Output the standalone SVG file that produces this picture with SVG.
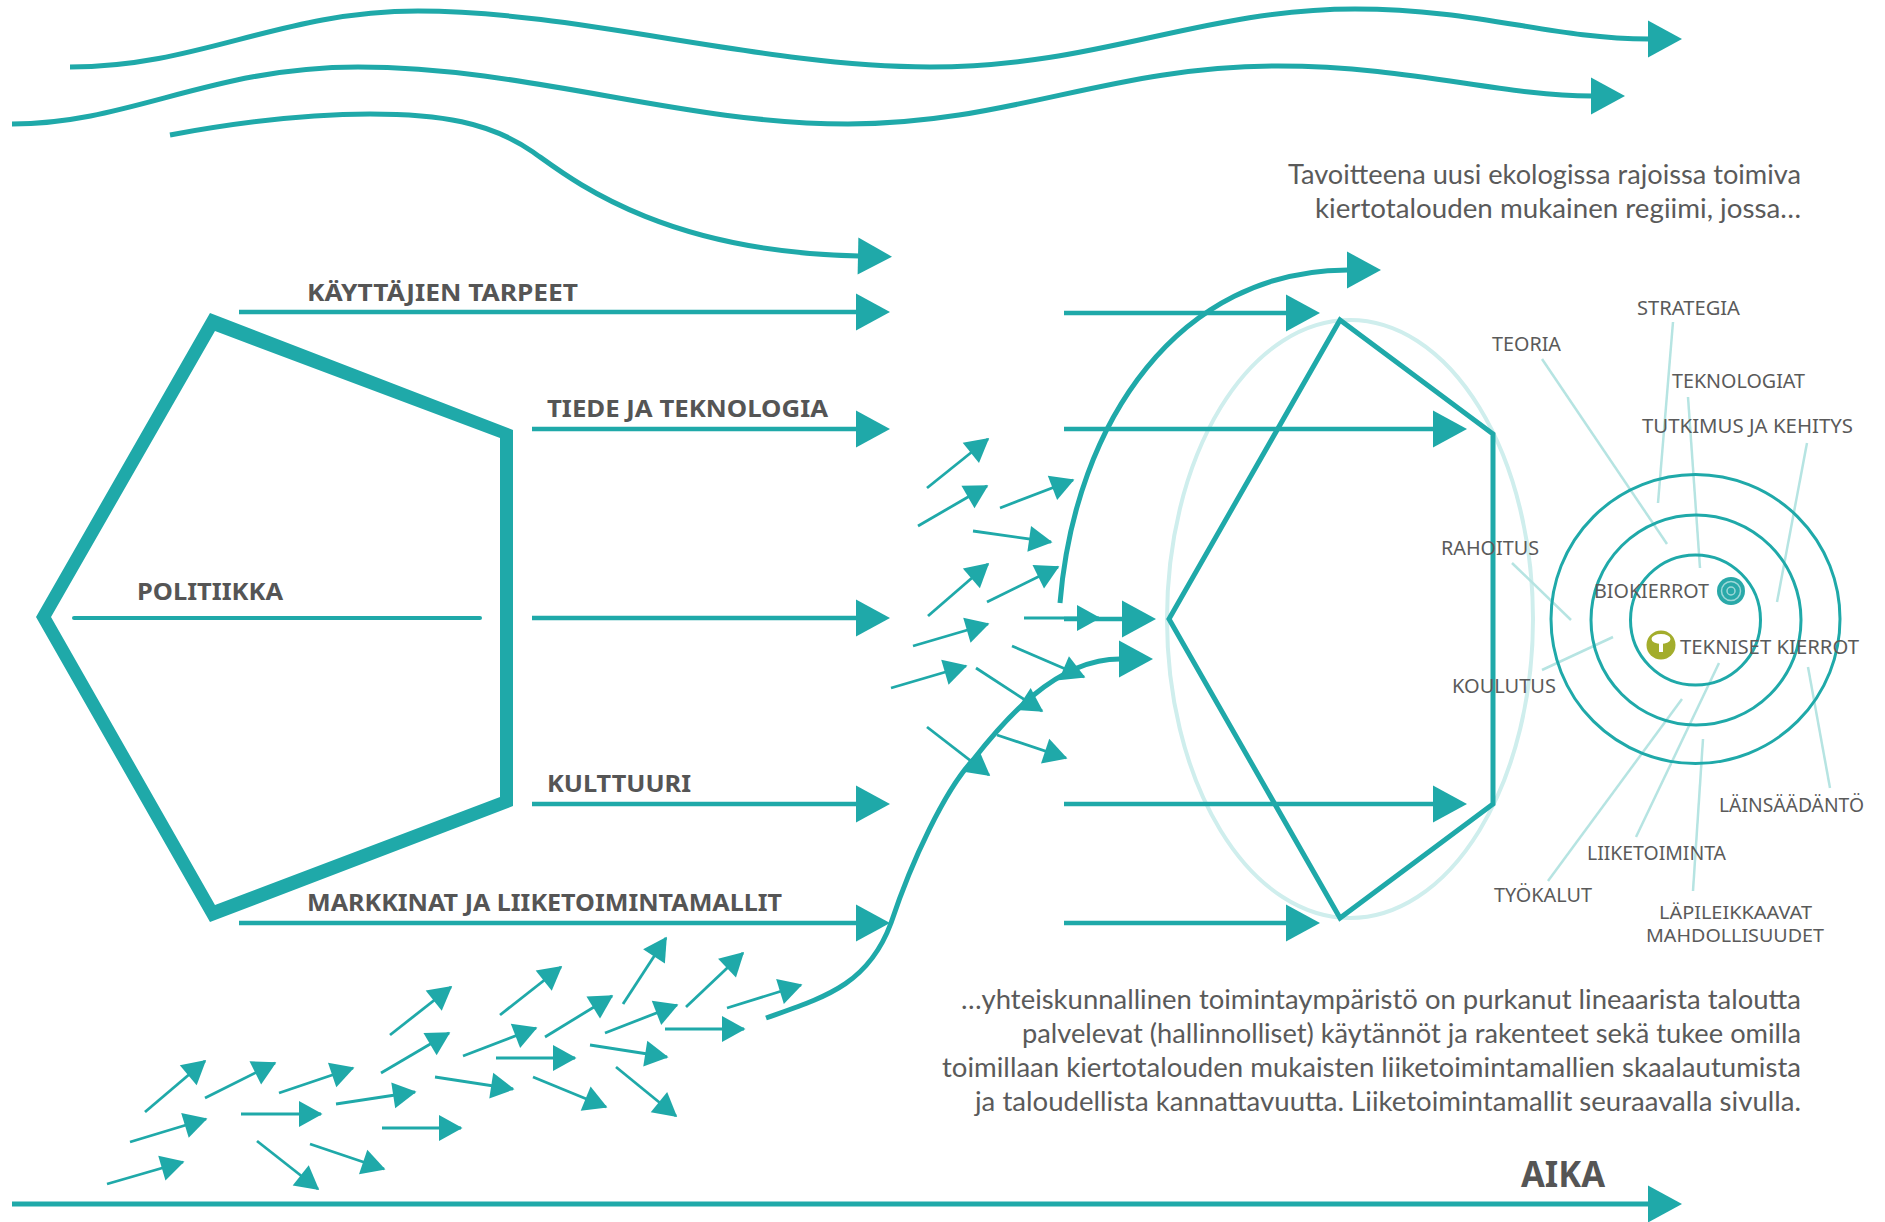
<svg xmlns="http://www.w3.org/2000/svg" width="1885" height="1222" viewBox="0 0 1885 1222">
<style>
.big{fill:none;stroke:#1fa9a9;stroke-width:5;marker-end:url(#hb)}
.mid{fill:none;stroke:#1fa9a9;stroke-width:4.5;marker-end:url(#hb)}
.sm{fill:none;stroke:#1fa9a9;stroke-width:2.8;marker-end:url(#hs)}
.plain{fill:none;stroke:#1fa9a9;stroke-linecap:round}
.lead{stroke:#b6e4e2;stroke-width:2.5;fill:none}
.ring{fill:none;stroke:#1fa9a9;stroke-width:3}
text{font-family:"Noto Sans","Liberation Sans",sans-serif;fill:#555}
.b{font-weight:700;font-size:24px}
.body{font-family:Lato,"Noto Sans",sans-serif;font-size:27px;fill:#5a5a5a}
.lab{font-size:19px;fill:#5a5a5a}
.tight{font-size:18px}
</style>
<defs>
<marker id="hb" markerUnits="userSpaceOnUse" markerWidth="40" markerHeight="40" refX="1" refY="20" orient="auto" overflow="visible"><path d="M0,1.5L34,20L0,38.500z" fill="#1fa9a9"/></marker>
<marker id="hs" markerUnits="userSpaceOnUse" markerWidth="26" markerHeight="30" refX="22" refY="15" orient="auto" overflow="visible"><path d="M0,2L23.500,15L0,28z" fill="#1fa9a9"/></marker>
</defs>
<rect width="1885" height="1222" fill="#fff"/>
<g id="node-ellipse"><ellipse cx="1350" cy="619" rx="183" ry="299" fill="none" stroke="#cfeeed" stroke-width="4"/></g>
<g id="node-pentagon-left"><path fill="#1fa9a9" fill-rule="evenodd" d="M210,313L513,430V806L210,922L36,617zM215,331L51,617L215,905L500,797V438z"/></g>
<g id="node-pentagon-right"><path d="M1340,320L1493,434V804L1340,918L1169,619z" fill="none" stroke="#1fa9a9" stroke-width="5"/></g>
<g id="connectors">
<path class="big" d="M70,67C200,67 280,11 418,11C580,11 760,67 930,67C1100,67 1200,9 1355,9C1480,9 1550,39 1649,39"/>
<path class="big" d="M12,124C130,124 210,67 358,67C530,67 680,124 848,124C1010,124 1110,66 1278,66C1410,66 1500,96 1592,96"/>
<path class="big" d="M170,135C240,122 310,114 370,114C440,114 490,122 533,152C570,178 660,252 859,256"/>
<path class="big" d="M12,1204H1649"/>
<path class="plain" stroke-width="4" d="M74,618H480"/>
<path class="mid" d="M239,312H857"/>
<path class="mid" d="M532,429H857"/>
<path class="mid" d="M532,618H857"/>
<path class="mid" d="M532,804H857"/>
<path class="mid" d="M239,923H857"/>
<path class="mid" d="M1064,313H1287"/>
<path class="mid" d="M1064,429H1434"/>
<path class="mid" d="M1064,619H1123"/>
<path class="mid" d="M1064,804H1434"/>
<path class="mid" d="M1064,923H1287"/>
<path class="big" d="M1060,603C1075,420 1180,270 1348,270"/>
<path class="big" d="M766,1018C825,997 868,985 891,923C912,860 945,790 973,760C1003,722 1055,659 1120,659"/>
<g id="small-arrows">
<line class="sm" x1="107" y1="1184" x2="183" y2="1162"/>
<line class="sm" x1="130" y1="1142" x2="206" y2="1119"/>
<line class="sm" x1="145" y1="1112" x2="205" y2="1061"/>
<line class="sm" x1="205" y1="1098" x2="275" y2="1063"/>
<line class="sm" x1="241" y1="1114" x2="321" y2="1114"/>
<line class="sm" x1="257" y1="1141" x2="318" y2="1189"/>
<line class="sm" x1="310" y1="1144" x2="384" y2="1169"/>
<line class="sm" x1="279" y1="1093" x2="353" y2="1068"/>
<line class="sm" x1="336" y1="1104" x2="415" y2="1092"/>
<line class="sm" x1="382" y1="1128" x2="461" y2="1128"/>
<line class="sm" x1="381" y1="1073" x2="449" y2="1033"/>
<line class="sm" x1="390" y1="1035" x2="451" y2="987"/>
<line class="sm" x1="435" y1="1077" x2="513" y2="1089"/>
<line class="sm" x1="463" y1="1056" x2="536" y2="1028"/>
<line class="sm" x1="496" y1="1058" x2="575" y2="1058"/>
<line class="sm" x1="500" y1="1015" x2="561" y2="967"/>
<line class="sm" x1="533" y1="1077" x2="606" y2="1107"/>
<line class="sm" x1="545" y1="1037" x2="612" y2="996"/>
<line class="sm" x1="590" y1="1045" x2="667" y2="1057"/>
<line class="sm" x1="605" y1="1033" x2="677" y2="1005"/>
<line class="sm" x1="616" y1="1067" x2="676" y2="1116"/>
<line class="sm" x1="623" y1="1004" x2="666" y2="938"/>
<line class="sm" x1="665" y1="1029" x2="744" y2="1029"/>
<line class="sm" x1="686" y1="1007" x2="743" y2="953"/>
<line class="sm" x1="727" y1="1008" x2="801" y2="985"/>
<line class="sm" x1="927" y1="488" x2="988" y2="439"/>
<line class="sm" x1="918" y1="526" x2="987" y2="486"/>
<line class="sm" x1="1000" y1="508" x2="1073" y2="480"/>
<line class="sm" x1="973" y1="531" x2="1051" y2="542"/>
<line class="sm" x1="928" y1="616" x2="988" y2="564"/>
<line class="sm" x1="987" y1="602" x2="1058" y2="567"/>
<line class="sm" x1="913" y1="646" x2="988" y2="624"/>
<line class="sm" x1="891" y1="688" x2="966" y2="666"/>
<line class="sm" x1="1024" y1="618" x2="1099" y2="618"/>
<line class="sm" x1="1012" y1="646" x2="1084" y2="677"/>
<line class="sm" x1="976" y1="668" x2="1042" y2="711"/>
<line class="sm" x1="927" y1="727" x2="989" y2="775"/>
<line class="sm" x1="997" y1="735" x2="1066" y2="758"/>
</g>
<g id="leaders">
<line class="lead" x1="1673" y1="322" x2="1658" y2="503"/>
<line class="lead" x1="1542" y1="359" x2="1667" y2="544"/>
<line class="lead" x1="1688" y1="397" x2="1700" y2="568"/>
<line class="lead" x1="1807" y1="443" x2="1777" y2="602"/>
<line class="lead" x1="1512" y1="563" x2="1571" y2="620"/>
<line class="lead" x1="1542" y1="670" x2="1613" y2="637"/>
<line class="lead" x1="1548" y1="881" x2="1682" y2="699"/>
<line class="lead" x1="1636" y1="837" x2="1719" y2="663"/>
<line class="lead" x1="1693" y1="891" x2="1703" y2="739"/>
<line class="lead" x1="1830" y1="788" x2="1808" y2="667"/>
</g>
</g>
<g id="node-rings">
<circle class="ring" cx="1695.500" cy="619" r="144.500"/>
<circle class="ring" cx="1696" cy="620" r="105"/>
<circle class="ring" cx="1695.500" cy="620" r="65"/>
</g>
<g id="node-biokierrot">
<circle cx="1731" cy="591" r="14" fill="#2aa9a9"/>
<circle cx="1731" cy="591" r="9.500" fill="none" stroke="#9fd8d8" stroke-width="1.500"/>
<circle cx="1731" cy="591" r="4" fill="none" stroke="#9fd8d8" stroke-width="1.500"/>
<text class="lab" x="1594" y="598" textLength="115" lengthAdjust="spacingAndGlyphs">BIOKIERROT</text>
</g>
<g id="node-tekniset">
<circle cx="1661" cy="645" r="14.500" fill="#a3ad2c"/>
<ellipse cx="1661" cy="639" rx="9.500" ry="5" fill="#fff"/>
<rect x="1659" y="641" width="4" height="11" fill="#fff"/>
<text class="lab" x="1680" y="654" textLength="179" lengthAdjust="spacingAndGlyphs">TEKNISET KIERROT</text>
</g>
<g id="labels-main">
<text class="b" x="307" y="301" textLength="271" lengthAdjust="spacingAndGlyphs">KÄYTTÄJIEN TARPEET</text>
<text class="b" x="547" y="417" textLength="281" lengthAdjust="spacingAndGlyphs">TIEDE JA TEKNOLOGIA</text>
<text class="b" x="137" y="600" textLength="146" lengthAdjust="spacingAndGlyphs">POLITIIKKA</text>
<text class="b" x="547" y="792" textLength="144" lengthAdjust="spacingAndGlyphs">KULTTUURI</text>
<text class="b" x="307" y="911" textLength="475" lengthAdjust="spacingAndGlyphs">MARKKINAT JA LIIKETOIMINTAMALLIT</text>
<text class="b" x="1521" y="1187" style="font-size:35px" textLength="84" lengthAdjust="spacingAndGlyphs">AIKA</text>
</g>
<g id="labels-small">
<text class="lab" x="1637" y="315" textLength="103" lengthAdjust="spacingAndGlyphs">STRATEGIA</text>
<text class="lab" x="1492" y="351" textLength="69" lengthAdjust="spacingAndGlyphs">TEORIA</text>
<text class="lab" x="1672" y="388" textLength="133" lengthAdjust="spacingAndGlyphs">TEKNOLOGIAT</text>
<text class="lab" x="1642" y="433" textLength="211" lengthAdjust="spacingAndGlyphs">TUTKIMUS JA KEHITYS</text>
<text class="lab" x="1441" y="555" textLength="98" lengthAdjust="spacingAndGlyphs">RAHOITUS</text>
<text class="lab" x="1452" y="693" textLength="104" lengthAdjust="spacingAndGlyphs">KOULUTUS</text>
<text class="lab" x="1719" y="812" textLength="145" lengthAdjust="spacingAndGlyphs">LÄINSÄÄDÄNTÖ</text>
<text class="lab" x="1587" y="860" textLength="139" lengthAdjust="spacingAndGlyphs">LIIKETOIMINTA</text>
<text class="lab" x="1494" y="902" textLength="98" lengthAdjust="spacingAndGlyphs">TYÖKALUT</text>
<text class="lab tight" x="1659" y="919" textLength="153" lengthAdjust="spacingAndGlyphs">LÄPILEIKKAAVAT</text>
<text class="lab tight" x="1646" y="942" textLength="178" lengthAdjust="spacingAndGlyphs">MAHDOLLISUUDET</text>
</g>
<g id="text-body">
<text class="body" x="1288" y="184" textLength="513" lengthAdjust="spacingAndGlyphs">Tavoitteena uusi ekologissa rajoissa toimiva</text>
<text class="body" x="1315" y="218" textLength="486" lengthAdjust="spacingAndGlyphs">kiertotalouden mukainen regiimi, jossa…</text>
<text class="body" x="961" y="1009" textLength="840" lengthAdjust="spacingAndGlyphs">…yhteiskunnallinen toimintaympäristö on purkanut lineaarista taloutta</text>
<text class="body" x="1022" y="1043" textLength="779" lengthAdjust="spacingAndGlyphs">palvelevat (hallinnolliset) käytännöt ja rakenteet sekä tukee omilla</text>
<text class="body" x="942" y="1077" textLength="859" lengthAdjust="spacingAndGlyphs">toimillaan kiertotalouden mukaisten liiketoimintamallien skaalautumista</text>
<text class="body" x="975" y="1111" textLength="826" lengthAdjust="spacingAndGlyphs">ja taloudellista kannattavuutta. Liiketoimintamallit seuraavalla sivulla.</text>
</g>
</svg>
